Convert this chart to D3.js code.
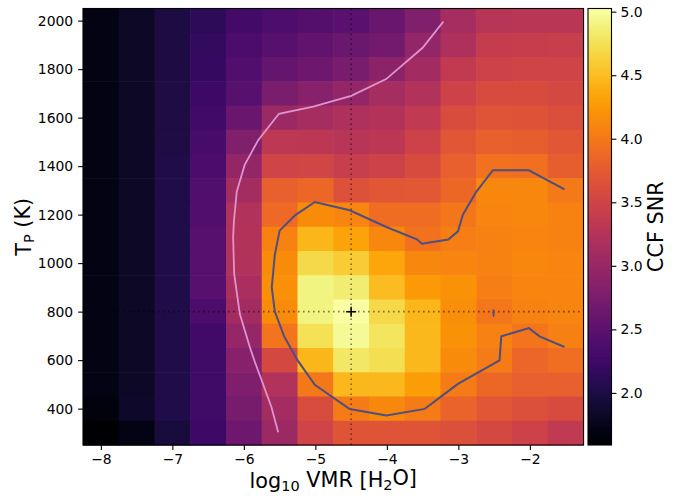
<!DOCTYPE html>
<html>
<head>
<meta charset="utf-8">
<script src="https://cdn.jsdelivr.net/npm/d3@7"></script>
<style>
  body { margin: 0; background: #fff; }
  text { font-family: "DejaVu Sans", sans-serif; fill: #000; }
</style>
</head>
<body>
<script>
// Grid of the retrieval: log10 VMR (columns) x planet temperature (rows)
var logVMR = [-8, -7.5, -7, -6.5, -6, -5.5, -5, -4.5, -4, -3.5, -3, -2.5, -2, -1.5];
var tempP = [2000, 1900, 1800, 1700, 1600, 1500, 1400, 1300, 1200, 1100, 1000, 900, 800, 700, 600, 500, 400, 300];

// CCF SNR, one row per temperature (same order as tempP)
var snr = [
  [1.72, 1.82, 1.98, 2.12, 2.30, 2.38, 2.43, 2.47, 2.60, 2.80, 3.13, 3.27, 3.30, 3.30],
  [1.72, 1.82, 1.98, 2.16, 2.36, 2.46, 2.53, 2.62, 2.70, 2.97, 3.20, 3.40, 3.41, 3.42],
  [1.72, 1.82, 1.99, 2.19, 2.40, 2.56, 2.64, 2.74, 2.90, 3.08, 3.37, 3.48, 3.50, 3.50],
  [1.72, 1.82, 2.00, 2.25, 2.46, 2.75, 2.86, 2.97, 3.12, 3.22, 3.48, 3.58, 3.58, 3.55],
  [1.72, 1.83, 2.00, 2.28, 2.60, 3.03, 3.12, 3.18, 3.24, 3.36, 3.60, 3.67, 3.66, 3.62],
  [1.72, 1.83, 2.00, 2.32, 2.80, 3.33, 3.32, 3.27, 3.31, 3.47, 3.70, 3.80, 3.78, 3.70],
  [1.72, 1.83, 2.01, 2.36, 2.96, 3.50, 3.52, 3.42, 3.47, 3.58, 3.80, 3.95, 3.93, 3.78],
  [1.72, 1.83, 2.01, 2.40, 3.10, 3.80, 3.86, 3.65, 3.70, 3.72, 3.87, 4.12, 4.12, 4.01],
  [1.72, 1.83, 2.01, 2.42, 3.22, 3.88, 4.15, 4.10, 3.90, 3.90, 3.98, 4.10, 4.12, 4.08],
  [1.72, 1.83, 2.02, 2.45, 3.24, 4.08, 4.45, 4.32, 4.12, 3.95, 4.05, 4.08, 4.10, 4.08],
  [1.72, 1.83, 2.02, 2.45, 3.22, 4.15, 4.70, 4.60, 4.35, 4.12, 4.10, 4.08, 4.12, 4.10],
  [1.72, 1.83, 2.02, 2.45, 3.17, 4.18, 4.90, 4.85, 4.50, 4.25, 4.20, 4.05, 4.10, 4.10],
  [1.72, 1.83, 2.02, 2.36, 3.08, 4.15, 4.90, 5.00, 4.70, 4.45, 4.17, 3.99, 4.08, 4.10],
  [1.72, 1.83, 2.02, 2.28, 2.98, 3.97, 4.75, 4.97, 4.78, 4.47, 4.20, 4.08, 3.97, 4.06],
  [1.72, 1.83, 2.02, 2.27, 2.86, 3.55, 4.45, 4.80, 4.73, 4.47, 4.15, 4.02, 3.85, 3.92],
  [1.72, 1.83, 2.02, 2.27, 2.79, 3.22, 4.00, 4.47, 4.47, 4.28, 4.02, 3.86, 3.80, 3.80],
  [1.67, 1.85, 2.02, 2.27, 2.72, 3.10, 3.60, 4.02, 4.12, 4.02, 3.82, 3.70, 3.64, 3.58],
  [1.60, 1.72, 1.95, 2.25, 2.65, 3.03, 3.50, 3.68, 3.68, 3.68, 3.63, 3.55, 3.48, 3.35]
];

// contour lines (x = log10 VMR, t = T_P)
var contour3X = [-5.52, -5.614, -5.75, -5.846, -5.917, -6.057, -6.136, -6.15, -6.14, -6.10, -5.99, -5.80, -5.51, -5.03, -4.50, -4.01, -3.50, -3.21];
var contour3T = [303, 406, 516, 592, 654, 791, 957, 1108, 1170, 1294, 1404, 1507, 1616, 1645, 1690, 1759, 1888, 1996];

var contour4X = [-1.515, -2.014, -2.517, -2.75, -2.937, -3.006, -3.14, -3.51, -3.58, -4.007, -4.52, -5.008, -5.28, -5.50, -5.567, -5.61, -5.567, -5.44, -5.25, -5.008, -4.52, -4.007, -3.47, -3.006, -2.424, -2.40, -2.014, -1.865, -1.515];
var contour4T = [1304, 1383, 1383, 1294, 1200, 1131, 1097, 1080, 1098, 1149, 1218, 1252, 1198, 1134, 1035, 900, 800, 700, 600, 498, 398, 372, 399, 502, 599, 698, 732, 698, 654];

var islandX = [-2.51, -2.502, -2.506, -2.516, -2.51];
var islandT = [808, 797, 779, 797, 808];

// best-fit point
var bestVMR = -4.5;
var bestT = 800;

var xTicks = [-8, -7, -6, -5, -4, -3, -2];
var yTicks = [400, 600, 800, 1000, 1200, 1400, 1600, 1800, 2000];
var cbTicks = [2.0, 2.5, 3.0, 3.5, 4.0, 4.5, 5.0];

var width = 694, height = 496;
var plotL = 83, plotR = 583.5, plotT = 8.5, plotB = 445;
var cbL = 588, cbR = 611.5;

var svg = d3.select("body").append("svg")
  .attr("width", width)
  .attr("height", height);

var x = d3.scaleLinear().domain([-8.25, -1.25]).range([plotL, plotR]);
var y = d3.scaleLinear().domain([250, 2050]).range([plotB, plotT]);
var color = d3.scaleSequential(d3.interpolateInferno).domain([1.59, 5.025]);

// flatten the grid into cells
var cells = [];
tempP.forEach(function(t, i) {
  logVMR.forEach(function(v, j) {
    cells.push({ v: v, t: t, s: snr[i][j] });
  });
});

svg.append("g").selectAll("rect")
  .data(cells)
  .enter()
  .append("rect")
  .attr("x", function(d) { return x(d.v - 0.25); })
  .attr("y", function(d) { return y(d.t + 50); })
  .attr("width", x(0.5) - x(0) + 0.6)
  .attr("height", y(0) - y(100) + 0.6)
  .attr("fill", function(d) { return color(d.s); });

// clip for the overlays
svg.append("clipPath").attr("id", "plotclip")
  .append("rect")
  .attr("x", plotL).attr("y", plotT)
  .attr("width", plotR - plotL).attr("height", plotB - plotT);

var over = svg.append("g").attr("clip-path", "url(#plotclip)");

// dotted crosshair through the best-fit point
over.append("line")
  .attr("x1", x(bestVMR)).attr("x2", x(bestVMR))
  .attr("y1", plotT).attr("y2", plotB)
  .attr("stroke", "#000").attr("stroke-opacity", 0.5)
  .attr("stroke-width", 1.6).attr("stroke-dasharray", "1.6,3.4");
over.append("line")
  .attr("x1", plotL).attr("x2", plotR)
  .attr("y1", y(bestT)).attr("y2", y(bestT))
  .attr("stroke", "#000").attr("stroke-opacity", 0.5)
  .attr("stroke-width", 1.6).attr("stroke-dasharray", "1.6,3.4");

var line = d3.line()
  .x(function(d) { return x(d[0]); })
  .y(function(d) { return y(d[1]); });

over.append("path")
  .datum(d3.zip(contour3X, contour3T))
  .attr("d", line)
  .attr("fill", "none")
  .attr("stroke", "#dd94d0")
  .attr("stroke-width", 1.8);

over.append("path")
  .datum(d3.zip(contour4X, contour4T))
  .attr("d", line)
  .attr("fill", "none")
  .attr("stroke", "#4e4f7e")
  .attr("stroke-width", 2);

over.append("path")
  .datum(d3.zip(islandX, islandT))
  .attr("d", line)
  .attr("fill", "#4e4f7e")
  .attr("stroke", "#4e4f7e")
  .attr("stroke-width", 1.3);

// + marker
var px = x(bestVMR), py = y(bestT);
over.append("path")
  .attr("d", "M" + (px - 5) + "," + py + "H" + (px + 5) + "M" + px + "," + (py - 5) + "V" + (py + 5))
  .attr("stroke", "#000").attr("stroke-width", 1.5);

// frame
svg.append("rect")
  .attr("x", plotL).attr("y", plotT)
  .attr("width", plotR - plotL).attr("height", plotB - plotT)
  .attr("fill", "none").attr("stroke", "#000").attr("stroke-width", 1.1);

// axes
var fmtMinus = function(d) { return String(d).replace("-", "\u2212"); };

var xAxis = svg.append("g")
  .attr("transform", "translate(0," + plotB + ")")
  .call(d3.axisBottom(x).tickValues(xTicks).tickSize(4.9).tickPadding(4.2).tickFormat(fmtMinus));
var yAxis = svg.append("g")
  .attr("transform", "translate(" + plotL + ",0)")
  .call(d3.axisLeft(y).tickValues(yTicks).tickSize(4.9).tickPadding(4.9).tickFormat(d3.format("d")));

[xAxis, yAxis].forEach(function(a) {
  a.select(".domain").remove();
  a.selectAll("line").attr("stroke", "#000").attr("stroke-width", 1.1);
  a.selectAll("text").style("font-size", "13.9px").style("font-family", "DejaVu Sans");
});

// x label
var xl = svg.append("text")
  .attr("x", (plotL + plotR) / 2)
  .attr("y", 488)
  .attr("text-anchor", "middle")
  .style("font-size", "20.8px");
xl.append("tspan").text("log");
xl.append("tspan").attr("dy", "0.22em").style("font-size", "14.5px").text("10");
xl.append("tspan").attr("dy", "-0.22em").text(" VMR [H");
xl.append("tspan").attr("dy", "0.22em").style("font-size", "14.5px").text("2");
xl.append("tspan").attr("dy", "-0.22em").text("O]");

// y label
var yl = svg.append("text")
  .attr("transform", "translate(31," + ((plotT + plotB) / 2) + ") rotate(-90)")
  .attr("text-anchor", "middle")
  .style("font-size", "20.8px");
yl.append("tspan").text("T");
yl.append("tspan").attr("dy", "0.22em").style("font-size", "14.5px").text("P");
yl.append("tspan").attr("dy", "-0.22em").text(" (K)");

// colorbar
var cbY = d3.scaleLinear().domain(color.domain()).range([plotB, plotT]);
var grad = svg.append("defs").append("linearGradient")
  .attr("id", "cbgrad")
  .attr("x1", "0%").attr("y1", "100%")
  .attr("x2", "0%").attr("y2", "0%");
d3.range(0, 1.0001, 0.02).forEach(function(f) {
  grad.append("stop")
    .attr("offset", (f * 100) + "%")
    .attr("stop-color", d3.interpolateInferno(f));
});
svg.append("rect")
  .attr("x", cbL).attr("y", plotT)
  .attr("width", cbR - cbL).attr("height", plotB - plotT)
  .attr("fill", "url(#cbgrad)")
  .attr("stroke", "#000").attr("stroke-width", 1.1);

var cbAxis = svg.append("g")
  .attr("transform", "translate(" + cbR + ",0)")
  .call(d3.axisRight(cbY).tickValues(cbTicks).tickSize(4.9).tickPadding(4.2).tickFormat(d3.format(".1f")));
cbAxis.select(".domain").remove();
cbAxis.selectAll("line").attr("stroke", "#000").attr("stroke-width", 1.1);
cbAxis.selectAll("text").style("font-size", "13.9px").style("font-family", "DejaVu Sans");

svg.append("text")
  .attr("transform", "translate(663," + ((plotT + plotB) / 2) + ") rotate(-90)")
  .attr("text-anchor", "middle")
  .style("font-size", "20.8px")
  .text("CCF SNR");
</script>
</body>
</html>
